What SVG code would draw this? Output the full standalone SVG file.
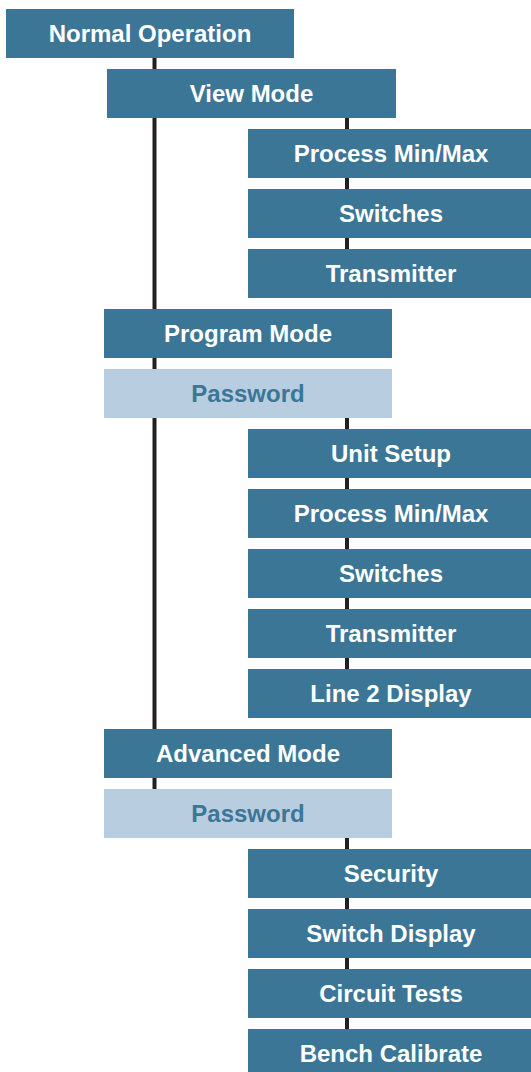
<svg xmlns="http://www.w3.org/2000/svg" width="531" height="1072" viewBox="0 0 531 1072">
  <style>
    .box { fill: #3b7696; }
    .pw { fill: #b8cde0; }
    .lbl { font-family: "Liberation Sans", Arial, sans-serif; font-weight: bold; font-size: 24px; fill: #ffffff; text-anchor: middle; }
    .pwl { fill: #3b7696; }
    .wire { stroke: #231f20; stroke-width: 4; fill: none; }
  </style>
  <rect width="531" height="1072" fill="#ffffff"/>

  <!-- connectors (drawn under the boxes) -->
  <g id="connectors">
    <line class="wire" x1="154.5" y1="58" x2="154.5" y2="789"/>
    <line class="wire" x1="347" y1="118" x2="347" y2="249"/>
    <line class="wire" x1="347" y1="418" x2="347" y2="669"/>
    <line class="wire" x1="347" y1="838" x2="347" y2="1029"/>
  </g>

  <g id="normal-operation">
    <rect class="box" x="6" y="9" width="288" height="49"/>
    <text class="lbl" x="150" y="42">Normal Operation</text>
  </g>
  <g id="view-mode">
    <rect class="box" x="107" y="69" width="289" height="49"/>
    <text class="lbl" x="251.5" y="102">View Mode</text>
  </g>
  <g id="view-process-minmax">
    <rect class="box" x="248" y="129" width="283" height="49"/>
    <text class="lbl" x="391" y="162">Process Min/Max</text>
  </g>
  <g id="view-switches">
    <rect class="box" x="248" y="189" width="283" height="49"/>
    <text class="lbl" x="391" y="222">Switches</text>
  </g>
  <g id="view-transmitter">
    <rect class="box" x="248" y="249" width="283" height="49"/>
    <text class="lbl" x="391" y="282">Transmitter</text>
  </g>
  <g id="program-mode">
    <rect class="box" x="104" y="309" width="288" height="49"/>
    <text class="lbl" x="248" y="342">Program Mode</text>
  </g>
  <g id="program-password">
    <rect class="pw" x="104" y="369" width="288" height="49"/>
    <text class="lbl pwl" x="248" y="402">Password</text>
  </g>
  <g id="program-unit-setup">
    <rect class="box" x="248" y="429" width="283" height="49"/>
    <text class="lbl" x="391" y="462">Unit Setup</text>
  </g>
  <g id="program-process-minmax">
    <rect class="box" x="248" y="489" width="283" height="49"/>
    <text class="lbl" x="391" y="522">Process Min/Max</text>
  </g>
  <g id="program-switches">
    <rect class="box" x="248" y="549" width="283" height="49"/>
    <text class="lbl" x="391" y="582">Switches</text>
  </g>
  <g id="program-transmitter">
    <rect class="box" x="248" y="609" width="283" height="49"/>
    <text class="lbl" x="391" y="642">Transmitter</text>
  </g>
  <g id="program-line2-display">
    <rect class="box" x="248" y="669" width="283" height="49"/>
    <text class="lbl" x="391" y="702">Line 2 Display</text>
  </g>
  <g id="advanced-mode">
    <rect class="box" x="104" y="729" width="288" height="49"/>
    <text class="lbl" x="248" y="762">Advanced Mode</text>
  </g>
  <g id="advanced-password">
    <rect class="pw" x="104" y="789" width="288" height="49"/>
    <text class="lbl pwl" x="248" y="822">Password</text>
  </g>
  <g id="advanced-security">
    <rect class="box" x="248" y="849" width="283" height="49"/>
    <text class="lbl" x="391" y="882">Security</text>
  </g>
  <g id="advanced-switch-display">
    <rect class="box" x="248" y="909" width="283" height="49"/>
    <text class="lbl" x="391" y="942">Switch Display</text>
  </g>
  <g id="advanced-circuit-tests">
    <rect class="box" x="248" y="969" width="283" height="49"/>
    <text class="lbl" x="391" y="1002">Circuit Tests</text>
  </g>
  <g id="advanced-bench-calibrate">
    <rect class="box" x="248" y="1029" width="283" height="43"/>
    <text class="lbl" x="391" y="1061.5">Bench Calibrate</text>
  </g>
</svg>
